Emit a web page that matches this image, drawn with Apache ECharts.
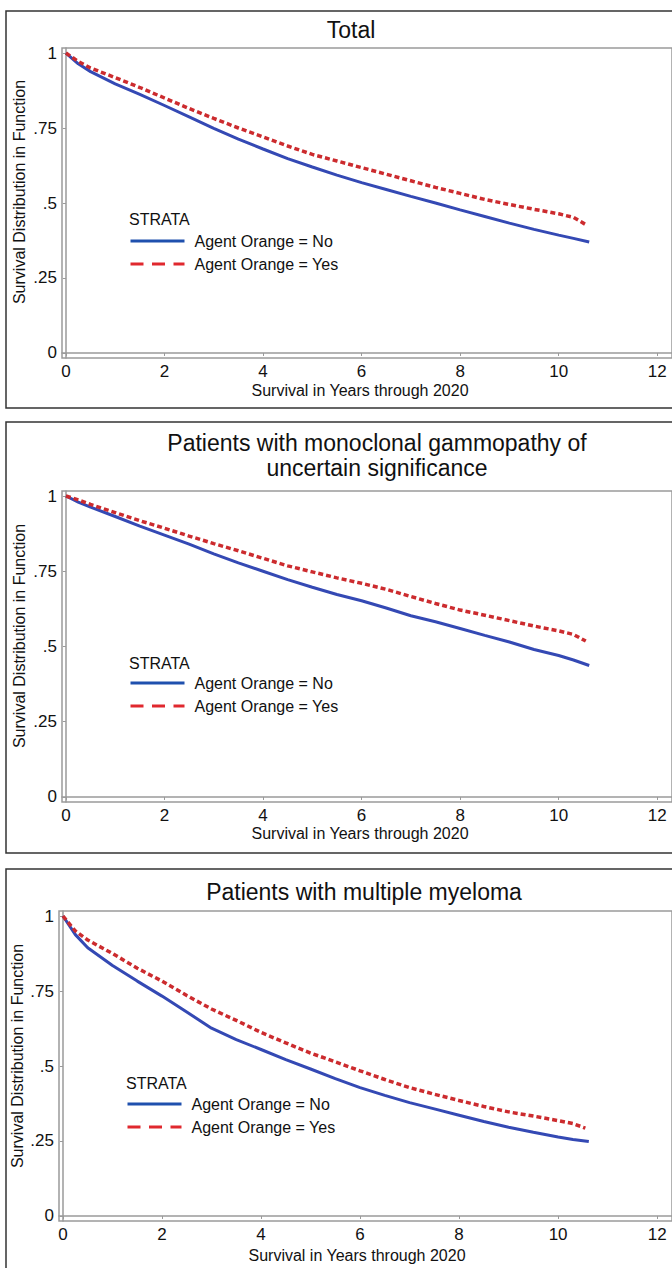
<!DOCTYPE html>
<html>
<head>
<meta charset="utf-8">
<script src="https://cdn.jsdelivr.net/npm/echarts@6/dist/echarts.min.js"></script>
<style>
  html, body { margin: 0; padding: 0; background: #fff; overflow: hidden; }
  #main { width: 672px; height: 1268px; }
</style>
</head>
<body>
<div id="main"></div>
<script>
// survival time points (years)
var yearsNo = [0, 0.25, 0.5, 1, 1.5, 2, 2.5, 3, 3.5, 4, 4.5, 5, 5.5, 6, 6.5, 7, 7.5, 8, 8.5, 9, 9.5, 10, 10.3, 10.62];
var yearsYes = [0, 0.25, 0.5, 1, 1.5, 2, 2.5, 3, 3.5, 4, 4.5, 5, 5.5, 6, 6.5, 7, 7.5, 8, 8.5, 9, 9.5, 10, 10.3, 10.55];

// Total
var totalNo = [1.0, 0.964, 0.938, 0.897, 0.862, 0.825, 0.787, 0.749, 0.713, 0.680, 0.648, 0.620, 0.593, 0.568, 0.545, 0.522, 0.500, 0.477, 0.455, 0.433, 0.412, 0.393, 0.382, 0.370];
var totalYes = [1.0, 0.972, 0.950, 0.918, 0.885, 0.850, 0.815, 0.782, 0.750, 0.720, 0.690, 0.662, 0.640, 0.618, 0.596, 0.574, 0.552, 0.532, 0.512, 0.495, 0.479, 0.464, 0.452, 0.428];
// MGUS
var mgusNo = [1.0, 0.980, 0.963, 0.932, 0.900, 0.870, 0.840, 0.808, 0.778, 0.750, 0.722, 0.697, 0.673, 0.652, 0.628, 0.602, 0.582, 0.560, 0.537, 0.515, 0.490, 0.470, 0.455, 0.437];
var mgusYes = [1.0, 0.987, 0.972, 0.945, 0.918, 0.893, 0.867, 0.842, 0.818, 0.793, 0.768, 0.748, 0.728, 0.710, 0.690, 0.666, 0.643, 0.621, 0.604, 0.586, 0.568, 0.552, 0.540, 0.518];
// multiple myeloma
var mmNo = [1.0, 0.938, 0.894, 0.835, 0.783, 0.733, 0.680, 0.626, 0.588, 0.555, 0.521, 0.490, 0.458, 0.428, 0.402, 0.378, 0.357, 0.336, 0.315, 0.296, 0.279, 0.263, 0.255, 0.248];
var mmYes = [1.0, 0.950, 0.920, 0.875, 0.826, 0.783, 0.735, 0.690, 0.652, 0.612, 0.577, 0.543, 0.514, 0.484, 0.455, 0.428, 0.406, 0.385, 0.365, 0.347, 0.333, 0.318, 0.308, 0.293];

var panelTitles = [['Total'], ['Patients with monoclonal gammopathy of', 'uncertain significance'], ['Patients with multiple myeloma']];
var seriesNames = ['Agent Orange = No', 'Agent Orange = Yes'];
var xTicks = [0, 2, 4, 6, 8, 10, 12];
var yTicks = [0, 0.25, 0.5, 0.75, 1];
var xName = 'Survival in Years through 2020';
var yName = 'Survival Distribution in Function';

var FONT = "'Liberation Sans', Arial, Helvetica, sans-serif";
var BLUE = '#3449b4';
var RED = '#cc2b2e';

var myChart = echarts.init(document.getElementById('main'), null, { renderer: 'svg' });

function pairs(xs, ys) {
  return xs.map(function (x, i) { return [x, ys[i]]; });
}

// panel layout
var panels = [
  { box: [6, 11, 700, 397], grid: [62, 48, 310], title: [351, 30], legendTop: 233, strata: [129, 219], yNameAt: [19, 192], xNameAt: [360, 390] },
  { box: [6, 422, 700, 431], grid: [62, 491, 311], title: [377, 443], legendTop: 675, strata: [129, 663], yNameAt: [19, 636], xNameAt: [360, 833] },
  { box: [6, 869, 700, 430], grid: [59, 911, 310], title: [364, 892], legendTop: 1096, strata: [126, 1083], yNameAt: [17, 1056], xNameAt: [357, 1255] }
];
var dataSets = [[totalNo, totalYes], [mgusNo, mgusYes], [mmNo, mmYes]];

var grids = [], xAxes = [], yAxes = [], series = [], legends = [], graphics = [];

panels.forEach(function (p, k) {
  grids.push({
    left: p.grid[0], top: p.grid[1], width: 619, height: p.grid[2],
    show: true, borderColor: '#9a9a9a', borderWidth: 1.5
  });
  xAxes.push({
    type: 'value', gridIndex: k, min: -0.08, max: 12.3,
    axisLine: { show: true, lineStyle: { color: '#9a9a9a', width: 1.5 } },
    axisTick: { show: true, length: 3, customValues: xTicks, lineStyle: { color: '#9a9a9a' } },
    axisLabel: { customValues: xTicks, fontSize: 17, color: '#111', fontFamily: FONT, margin: 5 },
    splitLine: { show: false }
  });
  yAxes.push({
    type: 'value', gridIndex: k, min: -0.0167, max: 1.0167,
    axisLine: { show: true, lineStyle: { color: '#9a9a9a', width: 1.5 } },
    axisTick: { show: true, length: 3, customValues: yTicks, lineStyle: { color: '#9a9a9a' } },
    axisLabel: {
      customValues: yTicks, fontSize: 17, color: '#111', fontFamily: FONT, margin: 5,
      formatter: function (v) {
        if (v === 0) return '0';
        if (v === 1) return '1';
        return String(v).replace('0.', '.');
      }
    },
    splitLine: { show: false }
  });
  series.push({
    name: seriesNames[0], type: 'line', xAxisIndex: k, yAxisIndex: k,
    data: pairs(yearsNo, dataSets[k][0]), symbol: 'none', smooth: false,
    lineStyle: { color: BLUE, width: 3 }, itemStyle: { color: BLUE }, z: 3
  });
  series.push({
    name: seriesNames[1], type: 'line', xAxisIndex: k, yAxisIndex: k,
    data: pairs(yearsYes, dataSets[k][1]), symbol: 'none', smooth: false,
    lineStyle: { color: RED, width: 3.5, type: [5, 3] }, itemStyle: { color: RED }, z: 4
  });
  legends.push({
    orient: 'vertical', left: p.strata[0], top: p.legendTop, padding: 0,
    itemWidth: 54, itemHeight: 14, itemGap: 7,
    textStyle: { fontSize: 16, color: '#111', fontFamily: FONT, padding: [0, 0, 0, 5] },
    data: [
      { name: seriesNames[0], itemStyle: { opacity: 0 }, lineStyle: { color: '#1f50ae', width: 3, type: 'solid' } },
      { name: seriesNames[1], itemStyle: { opacity: 0 }, lineStyle: { color: '#e0282e', width: 3, type: [13, 8.5] } }
    ]
  });

  // outer panel frame
  graphics.push({
    type: 'rect', shape: { x: p.box[0], y: p.box[1], width: p.box[2], height: p.box[3] },
    style: { fill: 'none', stroke: '#333', lineWidth: 1.5 }, silent: true
  });
  // title lines
  panelTitles[k].forEach(function (line, j) {
    graphics.push({
      type: 'text', x: p.title[0], y: p.title[1] + j * 25,
      style: { text: line, font: '23px ' + FONT, fill: '#111', textAlign: 'center', textVerticalAlign: 'middle' }
    });
  });
  graphics.push({
    type: 'text', x: p.strata[0], y: p.strata[1],
    style: { text: 'STRATA', font: '16px ' + FONT, fill: '#111', textAlign: 'left', textVerticalAlign: 'middle' }
  });
  graphics.push({
    type: 'text', x: p.xNameAt[0], y: p.xNameAt[1],
    style: { text: xName, font: '16px ' + FONT, fill: '#111', textAlign: 'center', textVerticalAlign: 'middle' }
  });
  graphics.push({
    type: 'text', x: p.yNameAt[0], y: p.yNameAt[1], rotation: Math.PI / 2,
    style: { text: yName, font: '16px ' + FONT, fill: '#111', textAlign: 'center', textVerticalAlign: 'middle' }
  });
});

var option = {
  animation: false,
  backgroundColor: '#fff',
  grid: grids,
  xAxis: xAxes,
  yAxis: yAxes,
  legend: legends,
  series: series,
  graphic: graphics
};

myChart.setOption(option);
</script>
</body>
</html>
